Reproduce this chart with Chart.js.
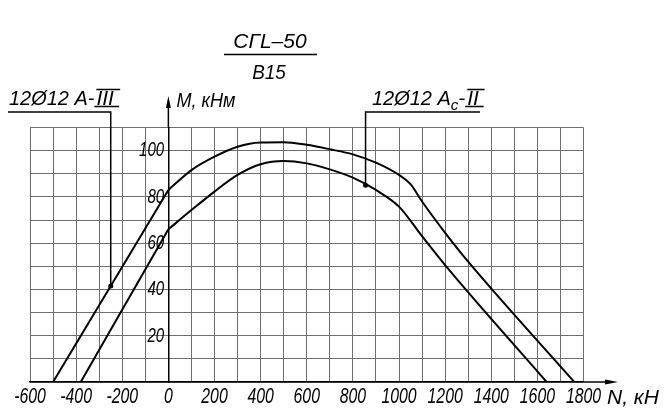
<!DOCTYPE html>
<html><head><meta charset="utf-8">
<script src="https://cdn.jsdelivr.net/npm/chart.js@4.4.0/dist/chart.umd.min.js"></script>
<style>html,body{margin:0;padding:0;background:#fff;}#wrap{width:671px;height:417px;position:relative;}</style>
</head><body><div id="wrap"><canvas id="c" width="671" height="417"></canvas></div>
<script>
// ---- data ----
const titleTop = 'СГL–50';
const titleBottom = 'В15';
const xAxisTitle = 'N, кН';
const yAxisTitle = 'M, кНм';
const xTickLabels = [-600, -400, -200, 0, 200, 400, 600, 800, 1000, 1200, 1400, 1600, 1800];
const yTickLabels = [20, 40, 60, 80, 100];

// outer curve (12Ø12 А-III)
const outerN = [-500, -250, 0, 100, 200, 300, 400, 500, 600, 700, 800, 900, 1000, 1050, 1100, 1200, 1300, 1760];
const outerM = [0, 41.5, 83, 91.6, 97.4, 101.7, 103.5, 103.6, 102.5, 100.6, 98.4, 94.8, 89.5, 85.5, 78, 64.5, 52, 0];
// inner curve (12Ø12 Аc-II)
const innerN = [-380, 0, 100, 200, 300, 400, 500, 600, 700, 800, 900, 1000, 1100, 1200, 1640];
const innerM = [0, 66, 74.3, 82.3, 89.5, 94.1, 95.5, 94.5, 91.9, 88.3, 83, 75.8, 63, 50.5, 0];

// leader anchor points on the curves
const leaderN = [-250, 855];
const leaderM = [41.5, 85];

// ---- build chart ----
const FONT = "'Liberation Sans', 'DejaVu Sans', sans-serif";
const canvas = document.getElementById('c');
const ctx2d = canvas.getContext('2d');
// narrow (drafting-style) rendering of numeric tick labels
const origFill = ctx2d.fillText;
ctx2d.fillText = function (t, x, y, mw) {
  if (typeof t === 'string' && /^-?\d+$/.test(t)) {
    const w = this.measureText(t).width * 0.72;
    return origFill.call(this, t, x, y, mw === undefined ? w : Math.min(w, mw));
  }
  return mw === undefined ? origFill.call(this, t, x, y) : origFill.call(this, t, x, y, mw);
};

function pts(N, M, keep) { return N.map((n, i) => ({x: n, y: M[i]})).filter(p => keep(p.x)); }
function lineDs(data, curved) {
  return {data, showLine: true, borderColor: '#000', borderWidth: 2, pointRadius: 0,
    tension: curved ? 0.4 : 0, cubicInterpolationMode: curved ? 'monotone' : 'default', fill: false};
}
const datasets = [
  lineDs(pts(outerN, outerM, n => n <= 0), false),
  lineDs(pts(outerN, outerM, n => n >= 0), true),
  lineDs(pts(innerN, innerM, n => n <= 0), false),
  lineDs(pts(innerN, innerM, n => n >= 0), true),
  {data: leaderN.map((n, i) => ({x: n, y: leaderM[i]})), showLine: false, pointRadius: 2.5,
   pointBackgroundColor: '#000', pointBorderColor: '#000', pointBorderWidth: 0}
];

function tri(ctx, a, b, c) { ctx.beginPath(); ctx.moveTo(a[0], a[1]); ctx.lineTo(b[0], b[1]); ctx.lineTo(c[0], c[1]); ctx.closePath(); ctx.fill(); }
function txt(ctx, s, x, y, k) { const w = ctx.measureText(s).width * k; origFill.call(ctx, s, x, y, w); return w; }
function barred(ctx, s, x, base, k) {
  const w = txt(ctx, s, x, base, k);
  ctx.beginPath();
  ctx.moveTo(x, base - 15.5); ctx.lineTo(x + w + 1, base - 15.5);
  ctx.moveTo(x - 2, base + 1.5); ctx.lineTo(x + w, base + 1.5);
  ctx.stroke();
  return w;
}

const deco = {
  id: 'deco',
  afterDraw(chart) {
    const {ctx, chartArea: a, scales: {x, y}} = chart;
    const x0 = x.getPixelForValue(0);
    const yb = y.getPixelForValue(0);
    ctx.save();
    ctx.strokeStyle = '#000'; ctx.fillStyle = '#000'; ctx.lineWidth = 1.5;
    // axis extensions and arrows
    ctx.beginPath(); ctx.moveTo(x0, a.top); ctx.lineTo(x0, 104); ctx.stroke();
    tri(ctx, [x0, 96], [x0 - 2.5, 108], [x0 + 2.5, 108]);
    ctx.beginPath(); ctx.moveTo(a.right, yb); ctx.lineTo(608, yb); ctx.stroke();
    tri(ctx, [618, yb], [605, yb - 2.5], [605, yb + 2.5]);
    // axis titles
    ctx.font = 'italic 21px ' + FONT;
    ctx.textBaseline = 'middle'; ctx.textAlign = 'left';
    txt(ctx, yAxisTitle, x0 + 8, 101, 0.86);
    txt(ctx, xAxisTitle, 607, 398, 1.08);
    // title fraction
    ctx.textAlign = 'center';
    txt(ctx, titleTop, 270, 42, 1.0);
    txt(ctx, titleBottom, 269, 73, 0.9);
    ctx.beginPath(); ctx.moveTo(224, 54.5); ctx.lineTo(317, 54.5); ctx.stroke();
    // leader 1 (outer curve)
    ctx.textAlign = 'left'; ctx.textBaseline = 'alphabetic';
    const base = 105;
    let cx = 9;
    cx += txt(ctx, '12Ø12 А-', cx, base, 0.95) + 2;
    barred(ctx, 'III', cx, base, 1.3);
    const lx1 = x.getPixelForValue(leaderN[0]);
    ctx.beginPath(); ctx.moveTo(8, 112); ctx.lineTo(lx1, 112); ctx.lineTo(lx1, y.getPixelForValue(leaderM[0])); ctx.stroke();
    // leader 2 (inner curve)
    cx = 372;
    cx += txt(ctx, '12Ø12 А', cx, base, 0.95);
    ctx.font = 'italic 15px ' + FONT;
    cx += txt(ctx, 'c', cx, base + 5, 1);
    ctx.font = 'italic 21px ' + FONT;
    cx += txt(ctx, '-', cx, base, 1) + 2;
    barred(ctx, 'II', cx, base, 1.4);
    const lx2 = x.getPixelForValue(leaderN[1]);
    ctx.beginPath(); ctx.moveTo(480, 112); ctx.lineTo(lx2, 112); ctx.lineTo(lx2, y.getPixelForValue(leaderM[1])); ctx.stroke();
    ctx.restore();
  }
};

new Chart(canvas, {
  type: 'scatter',
  data: {datasets},
  options: {
    responsive: false, animation: false, devicePixelRatio: 1,
    layout: {padding: {left: 30, right: 87.5, top: 127.5, bottom: 0}},
    plugins: {legend: {display: false}, tooltip: {enabled: false}, title: {display: false}},
    scales: {
      x: {
        type: 'linear', position: 'bottom', min: -600, max: 1800,
        afterFit: s => { s.height = 35; },
        grid: {color: '#6e6e6e', lineWidth: 1, drawTicks: false},
        border: {display: true, color: '#000', width: 1.5},
        ticks: {stepSize: 100, autoSkip: false, maxRotation: 0, padding: 2, color: '#000',
          font: {family: FONT, size: 22, style: 'italic'},
          callback: v => xTickLabels.includes(v) ? String(v) : ''}
      },
      y: {
        type: 'linear', position: {x: 0}, min: 0, max: 110,
        afterFit: s => { s.width = 0; },
        grid: {color: '#6e6e6e', lineWidth: 1, drawTicks: false},
        border: {display: true, color: '#000', width: 1.5},
        ticks: {display: false, stepSize: 10}
      },
      yLabels: {
        type: 'linear', axis: 'y', position: {x: -18}, min: 0, max: 110,
        afterFit: s => { s.width = 0; },
        grid: {display: false, drawTicks: false},
        border: {display: false},
        ticks: {stepSize: 10, autoSkip: false, padding: 0, color: '#000',
          font: {family: FONT, size: 21, style: 'italic'},
          callback: v => yTickLabels.includes(v) ? String(v) : ''}
      }
    }
  },
  plugins: [deco]
});
</script></body></html>
